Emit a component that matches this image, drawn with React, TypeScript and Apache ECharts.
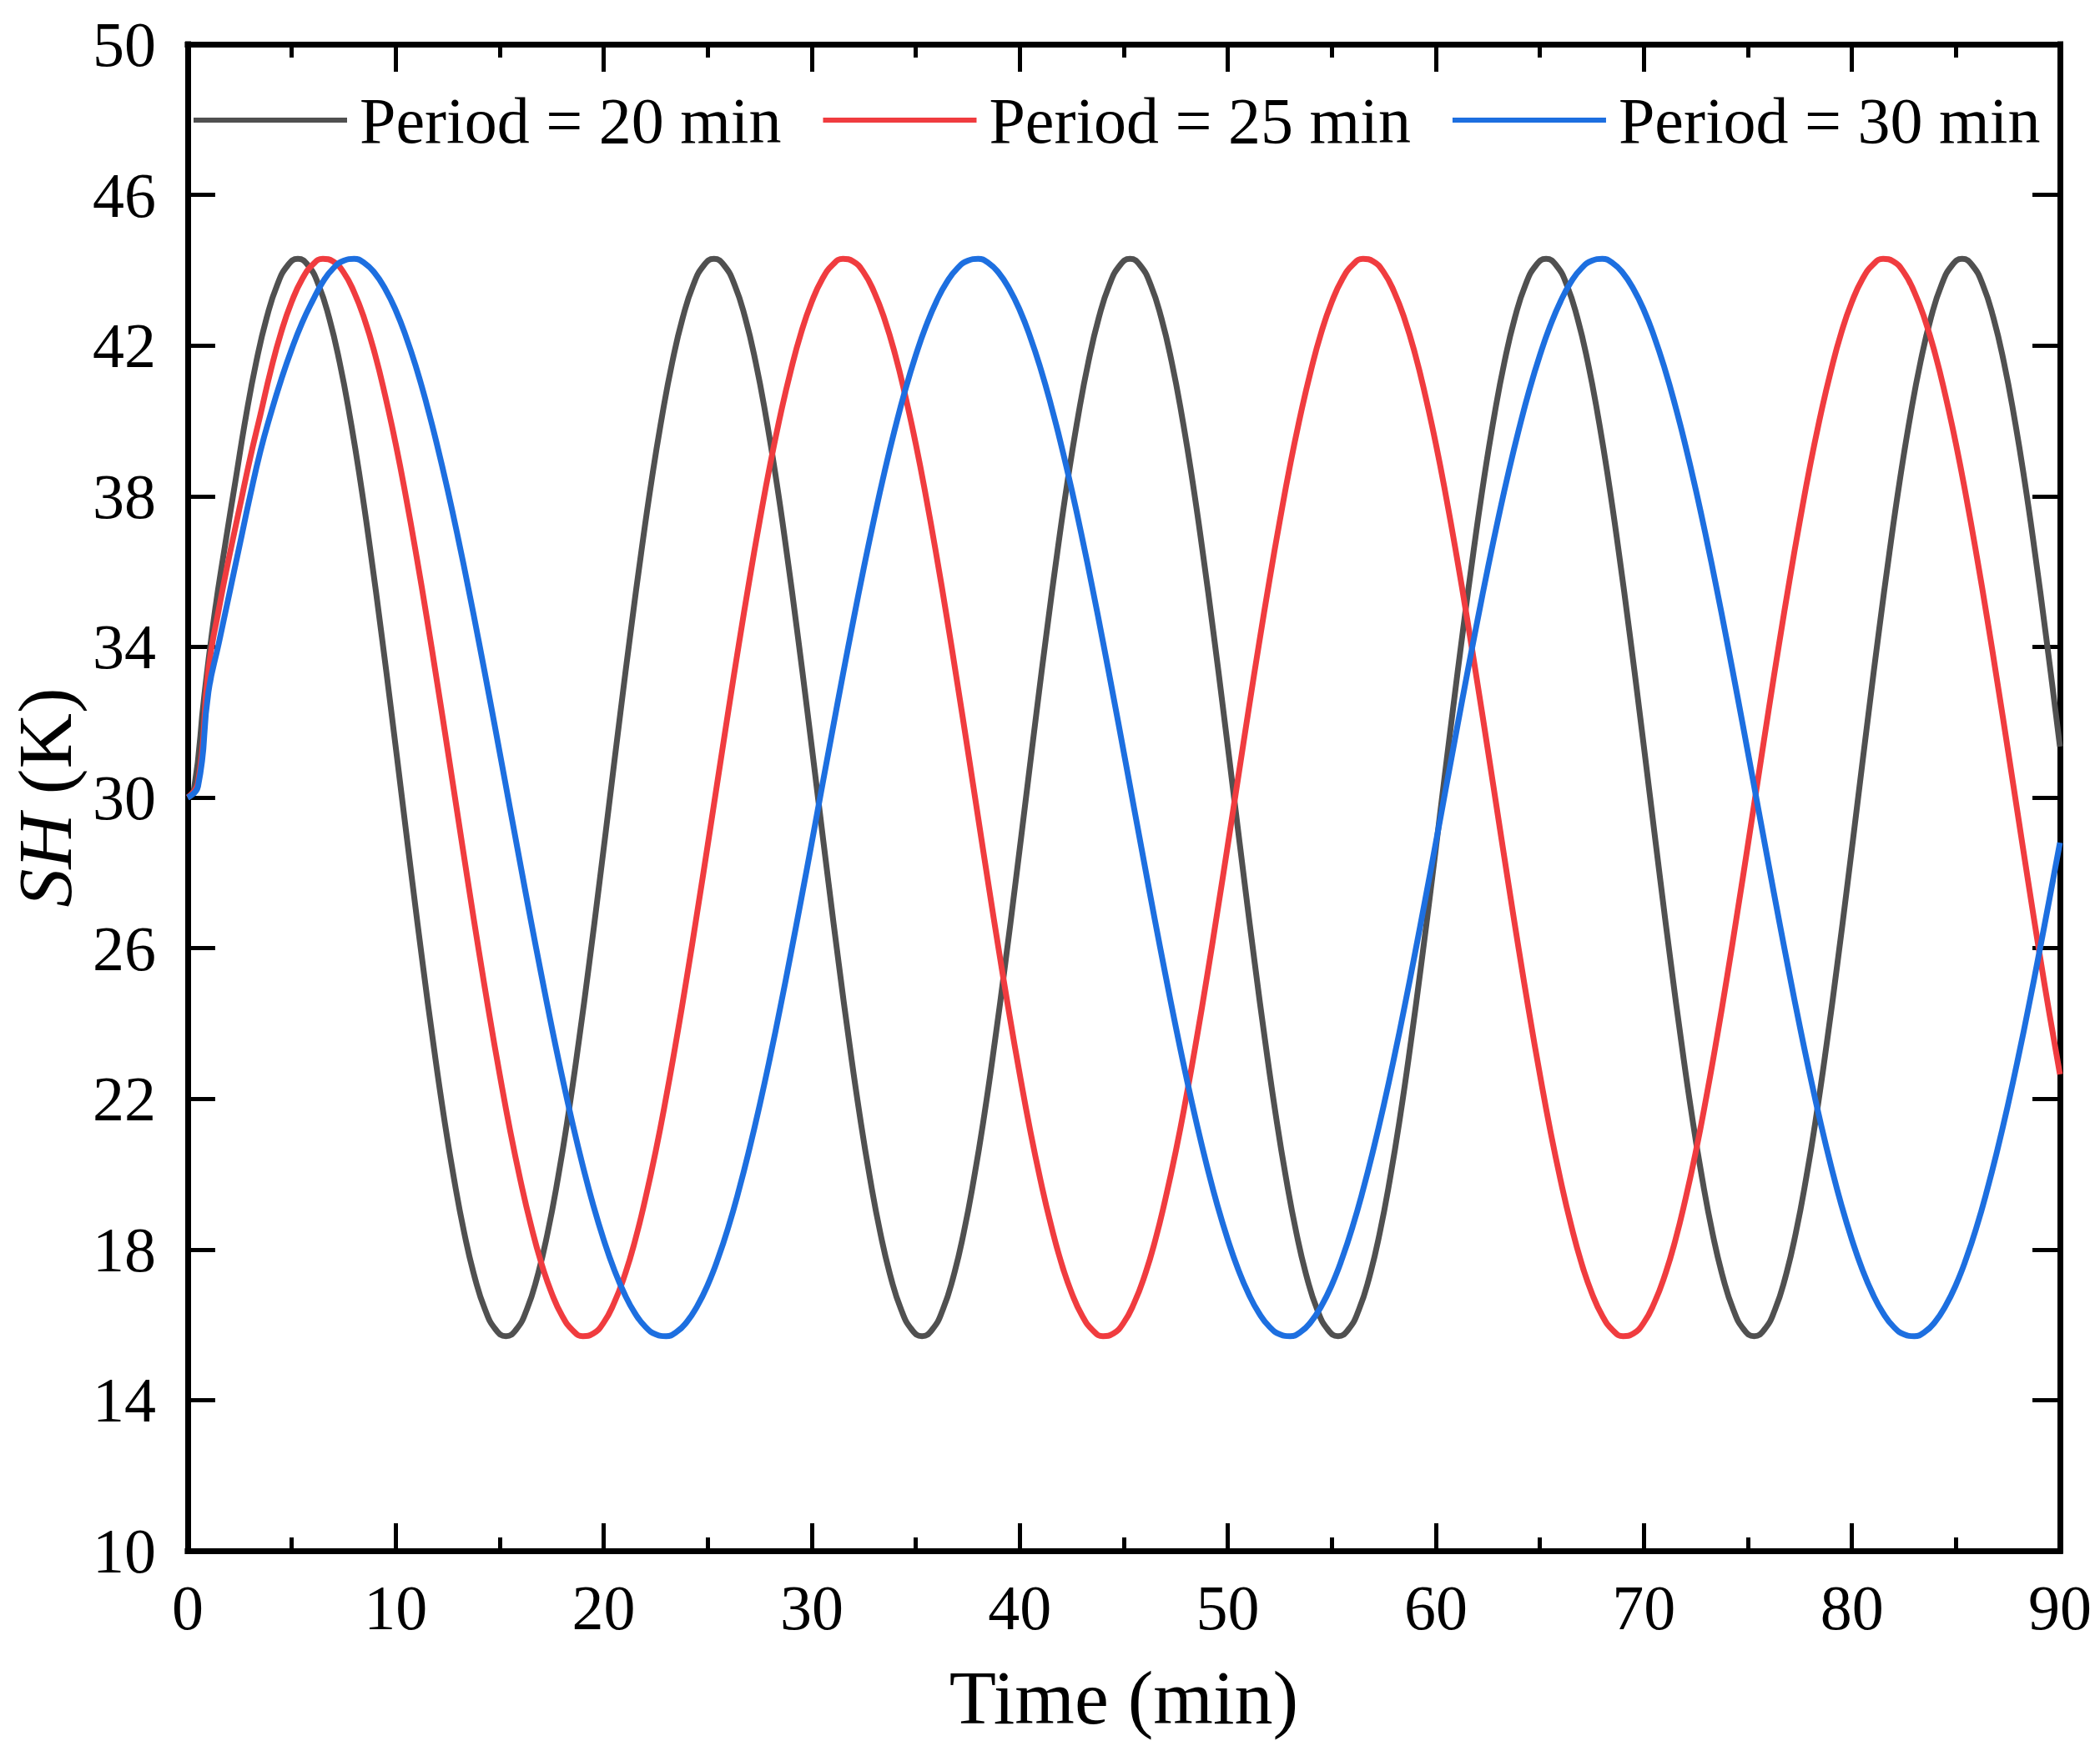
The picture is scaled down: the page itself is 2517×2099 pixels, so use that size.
import React, { useEffect, useRef } from "react";
import * as echarts from "echarts";

// time axis (min), sampled every half minute
const timeMin = [
  0, 0.5, 1, 1.5, 2, 2.5, 3, 3.5, 4, 4.5, 5, 5.5, 6, 6.5, 7, 7.5, 8, 8.5, 9, 9.5,
  10, 10.5, 11, 11.5, 12, 12.5, 13, 13.5, 14, 14.5, 15, 15.5, 16, 16.5, 17, 17.5, 18, 18.5, 19, 19.5,
  20, 20.5, 21, 21.5, 22, 22.5, 23, 23.5, 24, 24.5, 25, 25.5, 26, 26.5, 27, 27.5, 28, 28.5, 29, 29.5,
  30, 30.5, 31, 31.5, 32, 32.5, 33, 33.5, 34, 34.5, 35, 35.5, 36, 36.5, 37, 37.5, 38, 38.5, 39, 39.5,
  40, 40.5, 41, 41.5, 42, 42.5, 43, 43.5, 44, 44.5, 45, 45.5, 46, 46.5, 47, 47.5, 48, 48.5, 49, 49.5,
  50, 50.5, 51, 51.5, 52, 52.5, 53, 53.5, 54, 54.5, 55, 55.5, 56, 56.5, 57, 57.5, 58, 58.5, 59, 59.5,
  60, 60.5, 61, 61.5, 62, 62.5, 63, 63.5, 64, 64.5, 65, 65.5, 66, 66.5, 67, 67.5, 68, 68.5, 69, 69.5,
  70, 70.5, 71, 71.5, 72, 72.5, 73, 73.5, 74, 74.5, 75, 75.5, 76, 76.5, 77, 77.5, 78, 78.5, 79, 79.5,
  80, 80.5, 81, 81.5, 82, 82.5, 83, 83.5, 84, 84.5, 85, 85.5, 86, 86.5, 87, 87.5, 88, 88.5, 89, 89.5,
  90,
];

// the 20-min curve is read at its own instants, so that its peaks and troughs are samples
const timeMin20 = [
  0,
  0.3, 0.8, 1.3, 1.8, 2.3, 2.8, 3.3, 3.8, 4.3, 4.8, 5.3, 5.8, 6.3, 6.8, 7.3, 7.8, 8.3, 8.8, 9.3, 9.8,
  10.3, 10.8, 11.3, 11.8, 12.3, 12.8, 13.3, 13.8, 14.3, 14.8, 15.3, 15.8, 16.3, 16.8, 17.3, 17.8, 18.3, 18.8, 19.3, 19.8,
  20.3, 20.8, 21.3, 21.8, 22.3, 22.8, 23.3, 23.8, 24.3, 24.8, 25.3, 25.8, 26.3, 26.8, 27.3, 27.8, 28.3, 28.8, 29.3, 29.8,
  30.3, 30.8, 31.3, 31.8, 32.3, 32.8, 33.3, 33.8, 34.3, 34.8, 35.3, 35.8, 36.3, 36.8, 37.3, 37.8, 38.3, 38.8, 39.3, 39.8,
  40.3, 40.8, 41.3, 41.8, 42.3, 42.8, 43.3, 43.8, 44.3, 44.8, 45.3, 45.8, 46.3, 46.8, 47.3, 47.8, 48.3, 48.8, 49.3, 49.8,
  50.3, 50.8, 51.3, 51.8, 52.3, 52.8, 53.3, 53.8, 54.3, 54.8, 55.3, 55.8, 56.3, 56.8, 57.3, 57.8, 58.3, 58.8, 59.3, 59.8,
  60.3, 60.8, 61.3, 61.8, 62.3, 62.8, 63.3, 63.8, 64.3, 64.8, 65.3, 65.8, 66.3, 66.8, 67.3, 67.8, 68.3, 68.8, 69.3, 69.8,
  70.3, 70.8, 71.3, 71.8, 72.3, 72.8, 73.3, 73.8, 74.3, 74.8, 75.3, 75.8, 76.3, 76.8, 77.3, 77.8, 78.3, 78.8, 79.3, 79.8,
  80.3, 80.8, 81.3, 81.8, 82.3, 82.8, 83.3, 83.8, 84.3, 84.8, 85.3, 85.8, 86.3, 86.8, 87.3, 87.8, 88.3, 88.8, 89.3, 89.8,
  90,
];

// SH (K)
const period20 = [
  30.0,
  30.20, 32.70, 34.90, 36.70, 38.41, 40.11, 41.57, 42.74, 43.60, 44.12, 44.30, 44.12, 43.60, 42.74, 41.57, 40.11, 38.41, 36.49, 34.42, 32.24,
  30.00, 27.76, 25.58, 23.51, 21.59, 19.89, 18.43, 17.26, 16.40, 15.88, 15.70, 15.88, 16.40, 17.26, 18.43, 19.89, 21.59, 23.51, 25.58, 27.76,
  30.00, 32.24, 34.42, 36.49, 38.41, 40.11, 41.57, 42.74, 43.60, 44.12, 44.30, 44.12, 43.60, 42.74, 41.57, 40.11, 38.41, 36.49, 34.42, 32.24,
  30.00, 27.76, 25.58, 23.51, 21.59, 19.89, 18.43, 17.26, 16.40, 15.88, 15.70, 15.88, 16.40, 17.26, 18.43, 19.89, 21.59, 23.51, 25.58, 27.76,
  30.00, 32.24, 34.42, 36.49, 38.41, 40.11, 41.57, 42.74, 43.60, 44.12, 44.30, 44.12, 43.60, 42.74, 41.57, 40.11, 38.41, 36.49, 34.42, 32.24,
  30.00, 27.76, 25.58, 23.51, 21.59, 19.89, 18.43, 17.26, 16.40, 15.88, 15.70, 15.88, 16.40, 17.26, 18.43, 19.89, 21.59, 23.51, 25.58, 27.76,
  30.00, 32.24, 34.42, 36.49, 38.41, 40.11, 41.57, 42.74, 43.60, 44.12, 44.30, 44.12, 43.60, 42.74, 41.57, 40.11, 38.41, 36.49, 34.42, 32.24,
  30.00, 27.76, 25.58, 23.51, 21.59, 19.89, 18.43, 17.26, 16.40, 15.88, 15.70, 15.88, 16.40, 17.26, 18.43, 19.89, 21.59, 23.51, 25.58, 27.76,
  30.00, 32.24, 34.42, 36.49, 38.41, 40.11, 41.57, 42.74, 43.60, 44.12, 44.30, 44.12, 43.60, 42.74, 41.57, 40.11, 38.41, 36.49, 34.42, 32.24,
  31.35,
];

const period25 = [
  30.0,
  30.40, 33.40, 35.00, 36.40, 37.70, 39.00, 40.17, 41.35, 42.36, 43.16, 43.76, 44.14, 44.30, 44.23, 43.94, 43.42, 42.70, 41.78, 40.66, 39.39, 37.96, 36.41, 34.76, 33.03, 31.26,
  29.46, 27.67, 25.92, 24.24, 22.65, 21.16, 19.83, 18.65, 17.64, 16.84, 16.24, 15.86, 15.70, 15.77, 16.06, 16.58, 17.30, 18.22, 19.34, 20.61, 22.04, 23.59, 25.24, 26.97, 28.74,
  30.54, 32.33, 34.08, 35.76, 37.35, 38.84, 40.17, 41.35, 42.36, 43.16, 43.76, 44.14, 44.30, 44.23, 43.94, 43.42, 42.70, 41.78, 40.66, 39.39, 37.96, 36.41, 34.76, 33.03, 31.26,
  29.46, 27.67, 25.92, 24.24, 22.65, 21.16, 19.83, 18.65, 17.64, 16.84, 16.24, 15.86, 15.70, 15.77, 16.06, 16.58, 17.30, 18.22, 19.34, 20.61, 22.04, 23.59, 25.24, 26.97, 28.74,
  30.54, 32.33, 34.08, 35.76, 37.35, 38.84, 40.17, 41.35, 42.36, 43.16, 43.76, 44.14, 44.30, 44.23, 43.94, 43.42, 42.70, 41.78, 40.66, 39.39, 37.96, 36.41, 34.76, 33.03, 31.26,
  29.46, 27.67, 25.92, 24.24, 22.65, 21.16, 19.83, 18.65, 17.64, 16.84, 16.24, 15.86, 15.70, 15.77, 16.06, 16.58, 17.30, 18.22, 19.34, 20.61, 22.04, 23.59, 25.24, 26.97, 28.74,
  30.54, 32.33, 34.08, 35.76, 37.35, 38.84, 40.17, 41.35, 42.36, 43.16, 43.76, 44.14, 44.30, 44.23, 43.94, 43.42, 42.70, 41.78, 40.66, 39.39, 37.96, 36.41, 34.76, 33.03, 31.26,
  29.46, 27.67, 25.92, 24.24, 22.65,
];

const period30 = [
  30.0,
  30.30, 32.80, 34.10, 35.40, 36.70, 38.00, 39.20, 40.20, 41.10, 41.90, 42.60, 43.18, 43.69, 44.05, 44.25,
  44.30, 44.19, 43.92, 43.50, 42.94, 42.23, 41.39, 40.42, 39.34, 38.16, 36.89, 35.54, 34.13, 32.68, 31.20,
  29.70, 28.21, 26.73, 25.30, 23.91, 22.59, 21.35, 20.21, 19.17, 18.26, 17.47, 16.82, 16.31, 15.95, 15.75,
  15.70, 15.81, 16.08, 16.50, 17.06, 17.77, 18.61, 19.58, 20.66, 21.84, 23.11, 24.46, 25.87, 27.32, 28.80,
  30.30, 31.79, 33.27, 34.70, 36.09, 37.41, 38.65, 39.79, 40.83, 41.74, 42.53, 43.18, 43.69, 44.05, 44.25,
  44.30, 44.19, 43.92, 43.50, 42.94, 42.23, 41.39, 40.42, 39.34, 38.16, 36.89, 35.54, 34.13, 32.68, 31.20,
  29.70, 28.21, 26.73, 25.30, 23.91, 22.59, 21.35, 20.21, 19.17, 18.26, 17.47, 16.82, 16.31, 15.95, 15.75,
  15.70, 15.81, 16.08, 16.50, 17.06, 17.77, 18.61, 19.58, 20.66, 21.84, 23.11, 24.46, 25.87, 27.32, 28.80,
  30.30, 31.79, 33.27, 34.70, 36.09, 37.41, 38.65, 39.79, 40.83, 41.74, 42.53, 43.18, 43.69, 44.05, 44.25,
  44.30, 44.19, 43.92, 43.50, 42.94, 42.23, 41.39, 40.42, 39.34, 38.16, 36.89, 35.54, 34.13, 32.68, 31.20,
  29.70, 28.21, 26.73, 25.30, 23.91, 22.59, 21.35, 20.21, 19.17, 18.26, 17.47, 16.82, 16.31, 15.95, 15.75,
  15.70, 15.81, 16.08, 16.50, 17.06, 17.77, 18.61, 19.58, 20.66, 21.84, 23.11, 24.46, 25.87, 27.32, 28.80,
];

const seriesNames = ["Period = 20 min", "Period = 25 min", "Period = 30 min"];
const seriesColors = ["#505050", "#f03c3f", "#1d6fe0"];

const FONT = "'Liberation Serif', 'Times New Roman', serif";

const App: React.FC = () => {
  const chartRef = useRef<HTMLDivElement>(null);

  useEffect(() => {
    document.body.style.margin = "0";
    const chartDom = chartRef.current;
    if (!chartDom) return;

    const myChart = echarts.init(chartDom, null, { renderer: "svg" });

    const axisLine = {
      show: true,
      onZero: false,
      lineStyle: { color: "#000", width: 7, cap: "square" as const },
    };
    const axisTick = {
      show: true,
      inside: true,
      length: 33,
      lineStyle: { color: "#000", width: 5 },
    };
    const minorTick = {
      show: true,
      splitNumber: 2,
      length: 16,
      lineStyle: { color: "#000", width: 5 },
    };
    const labelStyle = {
      color: "#000",
      fontFamily: FONT,
      fontSize: 76,
    };

    const toPairs = (times: number[], values: number[]) =>
      values.map((v, i) => [times[i], v]);
    const allSeries = [
      toPairs(timeMin20, period20),
      toPairs(timeMin, period25),
      toPairs(timeMin, period30),
    ];

    const option: echarts.EChartsOption = {
      animation: false,
      backgroundColor: "#fff",
      grid: { left: 220, top: 53, width: 2249, height: 1806, containLabel: false },
      legend: {
        data: seriesNames,
        left: 232,
        top: 105,
        padding: 0,
        icon: "rect",
        itemWidth: 184,
        itemHeight: 6,
        itemGap: 50,
        textStyle: {
          color: "#000",
          fontFamily: FONT,
          fontSize: 78,
          padding: [0, 0, 0, 10],
        },
      },
      xAxis: [
        {
          type: "value",
          position: "bottom",
          min: 0,
          max: 90,
          interval: 10,
          axisLine,
          axisTick,
          minorTick,
          splitLine: { show: false },
          axisLabel: { ...labelStyle, margin: 30 },
          name: "Time (min)",
          nameLocation: "middle",
          nameGap: 130,
          nameTextStyle: { color: "#000", fontFamily: FONT, fontSize: 92 },
        },
        {
          type: "value",
          position: "top",
          min: 0,
          max: 90,
          interval: 10,
          axisLine,
          axisTick,
          minorTick,
          splitLine: { show: false },
          axisLabel: { show: false },
        },
      ],
      yAxis: [
        {
          type: "value",
          position: "left",
          min: 10,
          max: 50,
          interval: 4,
          axisLine,
          axisTick,
          splitLine: { show: false },
          axisLabel: { ...labelStyle, margin: 38 },
          name: "{i|SH} (K)",
          nameLocation: "middle",
          nameGap: 112,
          nameTextStyle: {
            color: "#000",
            fontFamily: FONT,
            fontSize: 92,
            rich: {
              i: { fontStyle: "italic", fontFamily: FONT, fontSize: 92, color: "#000" },
            },
          },
        },
        {
          type: "value",
          position: "right",
          min: 10,
          max: 50,
          interval: 4,
          axisLine,
          axisTick,
          splitLine: { show: false },
          axisLabel: { show: false },
        },
      ],
      series: allSeries.map((points, idx) => ({
        name: seriesNames[idx],
        type: "line",
        xAxisIndex: 0,
        yAxisIndex: 0,
        data: points,
        smooth: 0.5,
        symbol: "none",
        lineStyle: { color: seriesColors[idx], width: 7, join: "round" as const },
        itemStyle: { color: seriesColors[idx] },
      })),
    };

    myChart.setOption(option);

    return () => {
      myChart.dispose();
    };
  }, []);

  return <div ref={chartRef} style={{ width: "2517px", height: "2099px" }} />;
};

export default App;
